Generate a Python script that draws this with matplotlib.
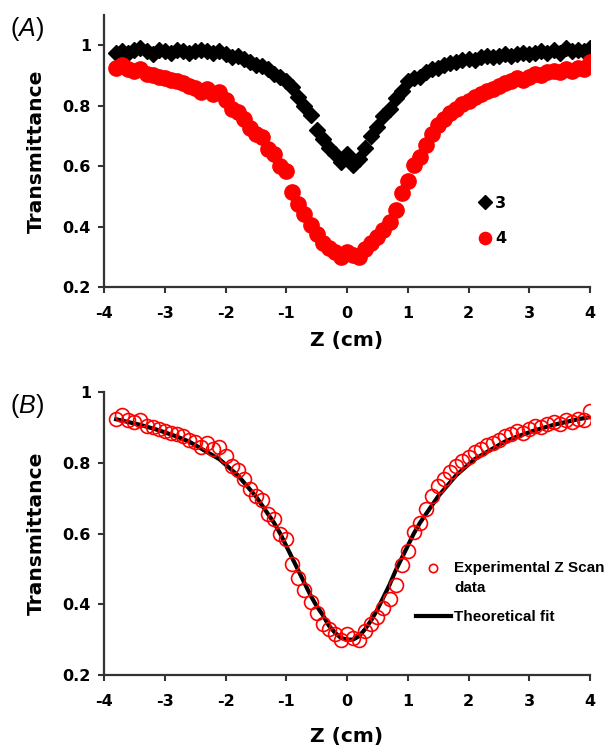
import matplotlib
matplotlib.use("Agg")
import matplotlib.pyplot as plt
from matplotlib.legend_handler import HandlerLine2D

plt.rcParams['font.family'] = ['DejaVu Sans']
plt.rcParams['font.weight'] = 'bold'
plt.rcParams['axes.unicode_minus'] = False
plt.rcParams['mathtext.fontset'] = 'custom'
plt.rcParams['mathtext.rm'] = 'Liberation Sans:weight=normal'
plt.rcParams['mathtext.it'] = 'Liberation Sans:style=italic:weight=normal'

# Scan positions (cm)
z_scan = [-3.8, -3.7, -3.6, -3.5, -3.4, -3.3, -3.2, -3.1, -3.0, -2.9,
          -2.8, -2.7, -2.6, -2.5, -2.4, -2.3, -2.2, -2.1, -2.0, -1.9,
          -1.8, -1.7, -1.6, -1.5, -1.4, -1.3, -1.2, -1.1, -1.0, -0.9,
          -0.8, -0.7, -0.6, -0.5, -0.4, -0.3, -0.2, -0.1, 0.0, 0.1,
          0.2, 0.3, 0.4, 0.5, 0.6, 0.7, 0.8, 0.9, 1.0, 1.1,
          1.2, 1.3, 1.4, 1.5, 1.6, 1.7, 1.8, 1.9, 2.0, 2.1,
          2.2, 2.3, 2.4, 2.5, 2.6, 2.7, 2.8, 2.9, 3.0, 3.1,
          3.2, 3.3, 3.4, 3.5, 3.6, 3.7, 3.8, 3.9, 4.0]

# Sample 3 transmittance
t_sample3 = [0.975, 0.980, 0.975, 0.985, 0.990, 0.980, 0.970, 0.985, 0.980, 0.975,
             0.985, 0.980, 0.975, 0.980, 0.985, 0.980, 0.975, 0.980, 0.970, 0.960,
             0.965, 0.955, 0.945, 0.935, 0.930, 0.920, 0.905, 0.895, 0.880, 0.862,
             0.830, 0.800, 0.770, 0.720, 0.690, 0.660, 0.640, 0.615, 0.640, 0.605,
             0.625, 0.660, 0.700, 0.730, 0.765, 0.790, 0.825, 0.850, 0.880, 0.890,
             0.895, 0.910, 0.920, 0.925, 0.935, 0.940, 0.945, 0.950, 0.955, 0.950,
             0.960, 0.965, 0.960, 0.965, 0.970, 0.965, 0.970, 0.975, 0.970, 0.975,
             0.980, 0.975, 0.985, 0.975, 0.990, 0.980, 0.985, 0.980, 0.990]

# Sample 4 transmittance
t_sample4 = [0.925, 0.935, 0.920, 0.915, 0.920, 0.905, 0.900, 0.895, 0.890, 0.885,
             0.880, 0.875, 0.865, 0.860, 0.845, 0.855, 0.840, 0.845, 0.820, 0.790,
             0.780, 0.755, 0.725, 0.705, 0.695, 0.655, 0.640, 0.600, 0.585, 0.515,
             0.475, 0.440, 0.405, 0.375, 0.345, 0.330, 0.315, 0.300, 0.315, 0.305,
             0.300, 0.325, 0.345, 0.365, 0.390, 0.415, 0.455, 0.510, 0.550, 0.605,
             0.630, 0.670, 0.705, 0.735, 0.755, 0.775, 0.790, 0.805, 0.815, 0.830,
             0.840, 0.850, 0.855, 0.865, 0.875, 0.880, 0.890, 0.885, 0.895, 0.905,
             0.900, 0.910, 0.915, 0.910, 0.920, 0.915, 0.925, 0.920, 0.945]

# Theoretical open-aperture fit
t_fit = [0.923, 0.919, 0.915, 0.911, 0.907, 0.902, 0.897, 0.892, 0.886, 0.880,
         0.874, 0.867, 0.860, 0.850, 0.840, 0.830, 0.820, 0.810, 0.795, 0.780,
         0.765, 0.745, 0.725, 0.705, 0.680, 0.655, 0.630, 0.600, 0.565, 0.530,
         0.495, 0.460, 0.425, 0.395, 0.370, 0.340, 0.320, 0.305, 0.300, 0.300,
         0.310, 0.330, 0.355, 0.385, 0.420, 0.455, 0.495, 0.530, 0.565, 0.600,
         0.630, 0.655, 0.680, 0.705, 0.725, 0.745, 0.765, 0.780, 0.795, 0.810,
         0.820, 0.830, 0.840, 0.850, 0.860, 0.867, 0.874, 0.880, 0.886, 0.892,
         0.897, 0.902, 0.907, 0.911, 0.915, 0.919, 0.923, 0.926, 0.929]

x_ticks = [-4, -3, -2, -1, 0, 1, 2, 3, 4]
y_ticks = [0.2, 0.4, 0.6, 0.8, 1.0]
y_ticklabels = ['0.2', '0.4', '0.6', '0.8', '1']

W, H = 610, 748
fig = plt.figure(figsize=(W / 100, H / 100), dpi=100)

def px_axes(left, top, right, bottom):
    return fig.add_axes([left / W, 1 - bottom / H, (right - left) / W, (bottom - top) / H])

axA = px_axes(104, 15, 590, 287)
axB = px_axes(104, 392, 590, 675)

def style(ax, ymax, xlabel_y):
    ax.set_xlim(-4, 4)
    ax.set_ylim(0.2, ymax)
    ax.set_xticks(x_ticks)
    ax.set_xticklabels([str(t) for t in x_ticks])
    ax.set_yticks(y_ticks)
    ax.set_yticklabels(y_ticklabels)
    for s in ('top', 'right'):
        ax.spines[s].set_visible(False)
    for s in ('left', 'bottom'):
        ax.spines[s].set_linewidth(1.6)
        ax.spines[s].set_color('#333333')
    ax.tick_params(axis='both', direction='out', length=4.3, width=1.5,
                   color='#333333', labelsize=11.5)
    ax.tick_params(axis='x', pad=9.5)
    ax.tick_params(axis='y', pad=5)
    ax.set_ylabel('Transmittance', fontsize=14.6, fontweight='bold')
    ax.set_xlabel('Z (cm)', fontsize=14.6, fontweight='bold')
    ax.yaxis.set_label_coords(-0.12, 0.5)
    ax.xaxis.set_label_coords(0.5, xlabel_y)


class RaisedHandler(HandlerLine2D):
    """Legend handler that lifts the marker to the first line of a two-line label."""
    def __init__(self, dy, **kw):
        super().__init__(**kw)
        self.dy = dy

    def create_artists(self, legend, orig_handle, xdescent, ydescent,
                       width, height, fontsize, trans):
        arts = super().create_artists(legend, orig_handle, xdescent, ydescent,
                                      width, height, fontsize, trans)
        for a in arts:
            a.set_ydata([y + self.dy for y in a.get_ydata()])
        return arts


# Panel A: both samples
axA.plot(z_scan, t_sample3, linestyle='none', marker='D', ms=8.5,
         color='black', mec='black', label='3')
axA.plot(z_scan, t_sample4, linestyle='none', marker='o', ms=11,
         color='#ff0000', mec='#ff0000', label='4')
style(axA, 1.1, -0.162)
axA.legend(loc='upper left', bbox_to_anchor=(0.757, 0.365), frameon=False,
           handlelength=0.6, handletextpad=0.35, labelspacing=1.3,
           markerscale=0.8, fontsize=11.5, borderpad=0)

# Panel B: sample 4 with fit
fit_line, = axB.plot(z_scan, t_fit, color='black', lw=3.0, zorder=2,
                     label='Theoretical fit')
exp_pts, = axB.plot(z_scan, t_sample4, linestyle='none', marker='o', ms=10,
                    mfc='none', mec='#ff0000', mew=1.2, zorder=3,
                    label='Experimental Z Scan\ndata')
style(axB, 1.0, -0.182)
legB = axB.legend([exp_pts, fit_line], [exp_pts.get_label(), fit_line.get_label()],
                  loc='upper left', bbox_to_anchor=(0.626, 0.43), frameon=False,
                  handlelength=2.3, handletextpad=0.2, labelspacing=1.0,
                  markerscale=0.6, borderpad=0,
                  handler_map={exp_pts: RaisedHandler(7.5)},
                  prop={'family': 'Liberation Sans', 'weight': 'bold', 'size': 11})
for t in legB.get_texts():
    t.set_linespacing(1.55)

# Panel letters
fig.text(27 / W, 1 - 29 / H, r'$(\mathit{A})$', fontsize=18, ha='center', va='center')
fig.text(27 / W, 1 - 406 / H, r'$(\mathit{B})$', fontsize=18, ha='center', va='center')

fig.savefig('out.png', dpi=100)
